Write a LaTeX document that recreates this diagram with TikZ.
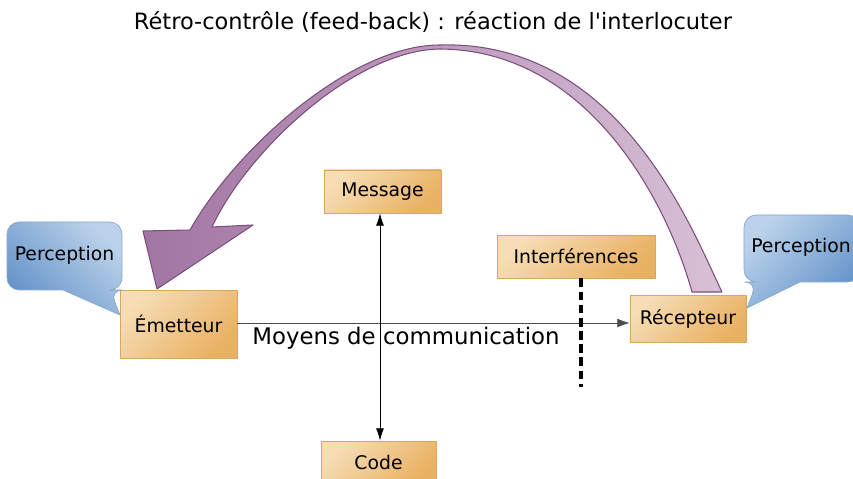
\documentclass[tikz,border=0pt]{standalone}
\usepackage{fontspec}
\setmainfont{DejaVu Sans}
\usepackage{tikz}
\usetikzlibrary{arrows.meta,positioning}
\definecolor{boxlight}{HTML}{F6DDB6}
\definecolor{boxdark}{HTML}{E9B163}
\definecolor{boxline}{HTML}{D9A85E}
\definecolor{bulllight}{HTML}{BCD2EA}
\definecolor{bulldark}{HTML}{6493C9}
\definecolor{bullline}{HTML}{86A8D2}
\definecolor{fbdark}{HTML}{A275A3}
\definecolor{fblight}{HTML}{D8C0D6}
\definecolor{fbline}{HTML}{7A4F7C}

\begin{document}
\begin{tikzpicture}[x=0.02cm,y=-0.02cm,
    every node/.style={font=\fontsize{10.7}{12}\selectfont},
    etape/.style={draw=boxline,top color=boxlight,bottom color=boxdark,shading angle=45,inner sep=0pt},
    bulle/.style={draw=bullline,top color=bulllight,bottom color=bulldark,line join=round}]
  \clip (0,0) rectangle (853,479);
  % titre
  \node (titre) at (433,22) {\fontsize{12.8}{15}\selectfont Rétro-contrôle (feed-back) : réaction de l\textquotesingle interlocuter};
  % boites
  \node[etape,minimum width=2.34cm,minimum height=1.36cm] (em) at (178.5,324) {Émetteur};
  \node[etape,minimum width=2.32cm,minimum height=0.94cm] (rec) at (688,318.5) {Récepteur};
  \node[etape,minimum width=2.34cm,minimum height=0.86cm] (msg) at (382.5,191.5) {Message};
  \node[etape,minimum width=2.30cm,minimum height=0.86cm] (code) at (378.5,462.5) {Code};
  \node[etape,minimum width=3.16cm,minimum height=0.86cm] (inter) at (576,256.5) {Interférences};
  % bulles
  \coordinate (pg) at (120,315);
  \coordinate (pd) at (747,308);
  \path[bulle,shading angle=-45] (63,290) [rounded corners=7pt] -- (7,290) -- (7,222) -- (122,222)
    -- (122,290) -- (110,290) [sharp corners] -- (pg) -- cycle;
  \path[bulle,shading angle=45] (800,282) [rounded corners=7pt] -- (860,282) -- (860,215) -- (744,215)
    -- (744,282) -- (757,282) [sharp corners] -- (pd) -- cycle;
  \node (perg) at (64.5,255) {Perception};
  \node (perd) at (801,247) {Perception};
  % canal
  \draw[-{Latex[length=7pt,width=5pt]},black!70] (em.east |- 0,323) -- (rec.west |- 0,323);
  \node[font=\fontsize{13}{15}\selectfont] (canal) at (406,338) {Moyens de communication};
  \draw[{Latex[length=7pt,width=4.5pt]}-{Latex[length=7pt,width=4.5pt]}] (msg.south -| 380,0) -- (code.north -| 380,0);
  \coordinate (bruit) at (581,387);
  \draw[line width=2pt,dash pattern=on 5pt off 2.5pt] (inter.south -| bruit) -- (bruit);
  % retro-controle
  \draw[fbline,left color=fbdark,right color=fblight,line width=0.6pt,line join=round]
    (722,292) .. controls (692,230) and (620,40) .. (440,45)
    .. controls (350,45) and (235,150) .. (190,230)
    -- (143,231) -- (157,289) -- (253,225) -- (212,227)
    .. controls (248,150) and (355,50) .. (440,49)
    .. controls (590,50) and (668,205) .. (692,292) -- cycle;
\end{tikzpicture}
\end{document}
